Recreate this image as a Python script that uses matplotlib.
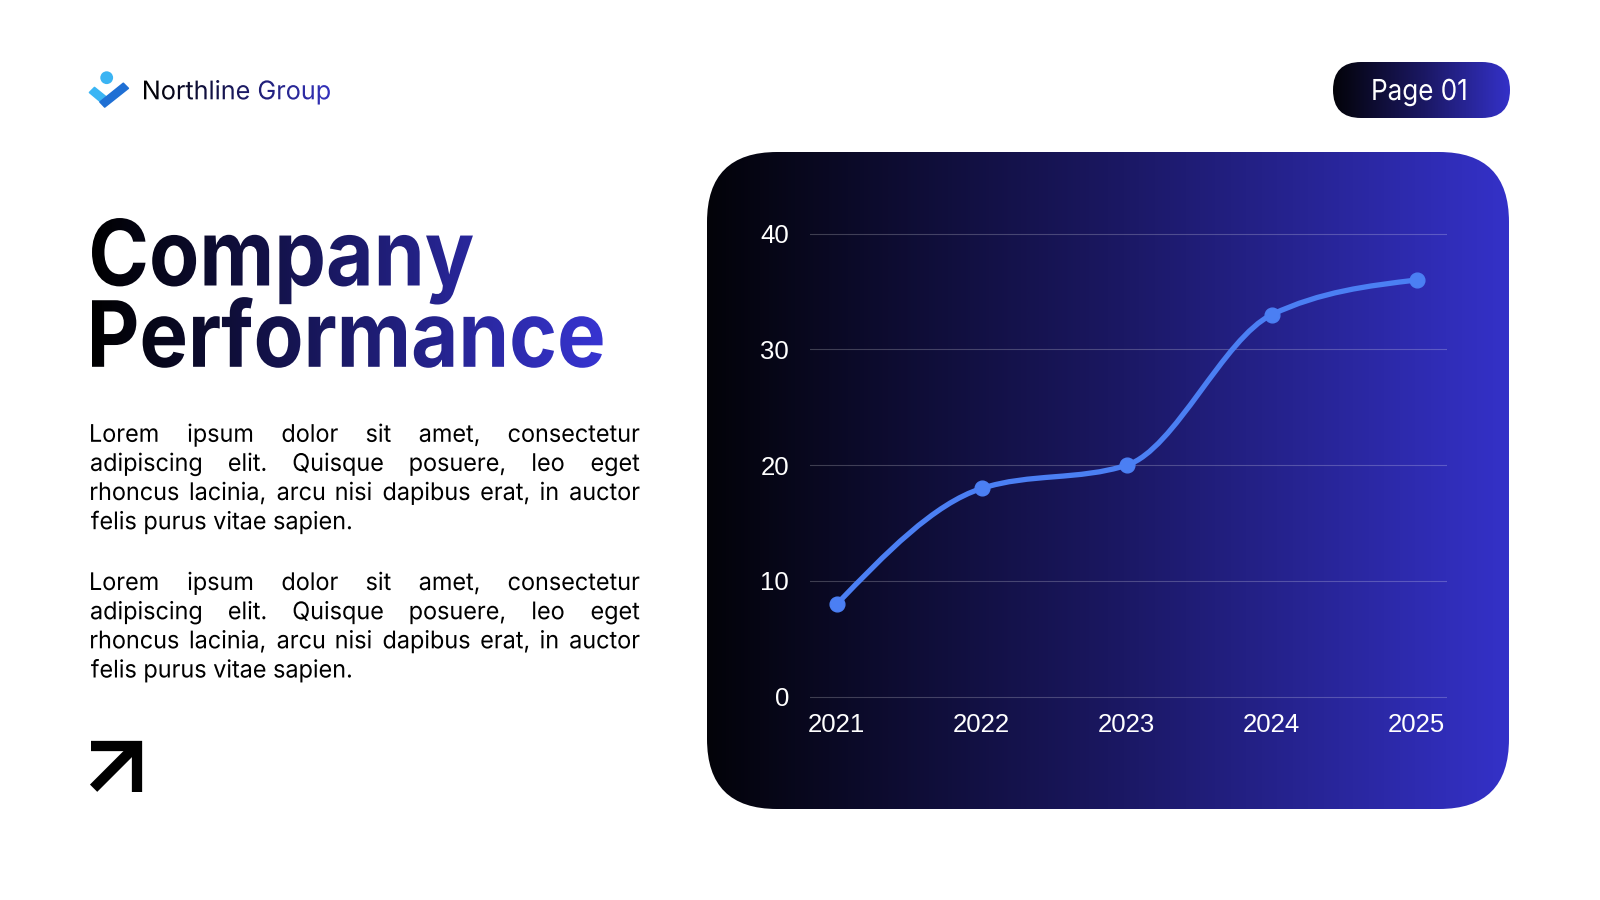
import numpy as np
import matplotlib
matplotlib.use("Agg")
import matplotlib.pyplot as plt
from matplotlib.patches import FancyBboxPatch, PathPatch, Polygon, Circle
from matplotlib.path import Path
from matplotlib.transforms import Affine2D, TransformedPath
from matplotlib.colors import LinearSegmentedColormap
from matplotlib.font_manager import FontProperties, findfont, get_font
from matplotlib.patheffects import AbstractPathEffect
from matplotlib.lines import Line2D
try:
    from matplotlib.ft2font import LoadFlags
    NOHINT = LoadFlags.NO_HINTING
except Exception:
    from matplotlib.ft2font import LOAD_NO_HINTING as NOHINT

# ---------------- data ----------------
years = ["2021", "2022", "2023", "2024", "2025"]
values = [8, 18, 20, 33, 36]
y_ticks = [0, 10, 20, 30, 40]

brand_name = "Northline Group"
page_label = "Page 01"
title_lines = ["Company", "Performance"]
paragraph_lines = [
    "Lorem ipsum dolor sit amet, consectetur",
    "adipiscing elit. Quisque posuere, leo eget",
    "rhoncus lacinia, arcu nisi dapibus erat, in auctor",
    "felis purus vitae sapien.",
]

plt.rcParams['font.family'] = ['Liberation Sans', 'DejaVu Sans']

W, H = 1600, 900
PX2PT = 0.72
fig = plt.figure(figsize=(16, 9), dpi=100)
fig.patch.set_facecolor('white')
bg = fig.add_axes([0, 0, 1, 1])
bg.set_xlim(0, W)
bg.set_ylim(H, 0)
bg.set_autoscale_on(False)
bg.axis('off')

panel_cmap = LinearSegmentedColormap.from_list('panel', ['#030309', '#1a1760', '#3431c8'])
title_cmap = LinearSegmentedColormap.from_list('title', ['#000000', '#3835d5'])
logo_cmap = LinearSegmentedColormap.from_list('logo', ['#000000', '#3533c0'])
ramp = np.linspace(0, 1, 512)[None, :]


class Squeeze(AbstractPathEffect):
    """Draw text as path, horizontally squeezed, optionally gradient-filled."""
    def __init__(self, sx=1.0, cmap=None, gx0=0.0, gx1=1.0):
        super().__init__()
        self.sx, self.cmap, self.gx0, self.gx1 = sx, cmap, gx0, gx1

    def draw_path(self, renderer, gc, tpath, affine, rgbFace=None):
        aff = Affine2D().scale(self.sx, 1.0) + affine
        if self.cmap is None:
            renderer.draw_path(gc, tpath, aff, rgbFace)
            return
        ext = aff.transform_path(tpath).get_extents()
        x0 = int(np.floor(ext.x0)) - 1
        y0 = int(np.floor(ext.y0)) - 1
        w = int(np.ceil(ext.x1)) + 1 - x0
        h = int(np.ceil(ext.y1)) + 1 - y0
        xs = np.arange(x0, x0 + w) + 0.5
        frac = np.clip((xs - self.gx0) / (self.gx1 - self.gx0), 0, 1)
        row = (np.asarray(self.cmap(frac)) * 255).astype(np.uint8)
        img = np.ascontiguousarray(np.repeat(row[None, :, :], h, axis=0))
        gc2 = renderer.new_gc()
        gc2.copy_properties(gc)
        gc2.set_clip_path(TransformedPath(tpath, aff))
        renderer.draw_image(gc2, x0, y0, img)
        gc2.restore()


def ink(s, prop, em):
    font = get_font(findfont(prop))
    font.set_size(em, 72)
    font.set_text(s, 0.0, flags=NOHINT)
    w, _ = font.get_width_height()
    g = font.load_char(ord(s[0]), flags=NOHINT)
    return w / 64.0, g.horiBearingX / 64.0


def put(x_ink, baseline, s, fam, weight, em, target_w=None, sx=None,
        color='black', cmap=None, gx=(0, 1), zorder=5):
    prop = FontProperties(family=fam, weight=weight, size=em * PX2PT)
    w, lsb = ink(s, prop, em)
    if sx is None:
        sx = target_w / w if target_w else 1.0
    t = bg.text(x_ink - lsb * sx, baseline, s, fontproperties=prop, color=color,
                ha='left', va='baseline', zorder=zorder)
    t.set_path_effects([Squeeze(sx, cmap, gx[0], gx[1])])
    return w * sx


# ---------------- logo ----------------
bg.add_patch(Polygon([(89.5, 92.5), (94.5, 87.5), (110, 100), (105, 105.5)],
                     closed=True, fc='#3ab5f4', ec='#3ab5f4', lw=1.2, joinstyle='round', zorder=3))
bg.add_patch(Polygon([(100, 102), (123.3, 83.3), (128.3, 88.3), (104.7, 107)],
                     closed=True, fc='#1f6fd4', ec='#1f6fd4', lw=1.2, joinstyle='round', zorder=4))
bg.add_patch(Circle((106.7, 77.7), 6.4, fc='#3bb4f3', ec='none', zorder=4))
put(144, 99.3, brand_name, 'Inter', 'normal', 25.7, target_w=333.3 - 144,
    cmap=logo_cmap, gx=(144, 333.3))

# ---------------- page pill ----------------
pill = FancyBboxPatch((1333, 62), 177, 56, boxstyle='round,pad=0,rounding_size=28',
                      transform=bg.transData, fc='none', ec='none')
im = bg.imshow(ramp, cmap=panel_cmap, extent=(1333, 1510, 118, 62), aspect='auto',
               interpolation='bilinear', zorder=2)
im.set_clip_path(pill)
put(1373.3, 100, page_label, 'Inter', 'normal', 28.9, target_w=1470 - 1373.3,
    color='white', zorder=6)

# ---------------- title ----------------
title_base = [285.5, 366.8]
title_right = [478, 611]
for line, yb, xr in zip(title_lines, title_base, title_right):
    put(92, yb, line, 'Inter', 'bold', 91.5, target_w=xr - 92,
        cmap=title_cmap, gx=(92, 611))

# ---------------- body text ----------------
body_prop = FontProperties(family='Inter', weight='normal', size=24.3 * PX2PT)
body_em = 24.3
x_left, x_right = 91, 641
last_w, _ = ink(paragraph_lines[-1], body_prop, body_em)
body_sx = (353 - x_left) / last_w


def paragraph(baselines):
    for i, (line, yb) in enumerate(zip(paragraph_lines, baselines)):
        if i == len(paragraph_lines) - 1:
            put(x_left, yb, line, 'Inter', 'normal', body_em, sx=body_sx, color='black')
            continue
        words = line.split(' ')
        widths = [ink(wd, body_prop, body_em)[0] * body_sx for wd in words]
        gap = (x_right - x_left - sum(widths)) / (len(words) - 1)
        x = x_left
        for wd, ww in zip(words, widths):
            put(x, yb, wd, 'Inter', 'normal', body_em, sx=body_sx, color='black')
            x += ww + gap


paragraph([441.8, 470.9, 500.0, 529.2])
paragraph([590.0, 619.2, 648.3, 677.5])

# ---------------- arrow ----------------
bg.add_line(Line2D([90.5, 136.5, 136.5], [745.9, 745.9, 791.7], color='black', lw=7.4,
                   solid_joinstyle='miter', solid_capstyle='butt', zorder=5))
bg.add_line(Line2D([93.6, 134.0], [788.2, 747.8], color='black', lw=7.4,
                   solid_capstyle='butt', zorder=5))

# ---------------- chart panel ----------------
panel = FancyBboxPatch((707, 152), 802, 657, boxstyle='round,pad=0,rounding_size=70',
                       transform=bg.transData, fc='none', ec='none')
im2 = bg.imshow(ramp, cmap=panel_cmap, extent=(707, 1509, 809, 152), aspect='auto',
                interpolation='bilinear', zorder=1)
im2.set_clip_path(panel)

ax = fig.add_axes([810 / W, 1 - 702.5 / H, 637 / W, (702.5 - 227.9) / H])
ax.set_facecolor('none')
xpos = np.arange(len(years))
ax.set_xlim(-0.185, 4.209)
ax.set_ylim(-0.5, 40.5)
ax.set_yticks(y_ticks)
ax.set_xticks(xpos)
ax.set_xticklabels(years)
ax.grid(axis='y', color='white', alpha=0.22, lw=0.8)
ax.grid(axis='x', visible=False)
for s in ax.spines.values():
    s.set_visible(False)
ax.tick_params(length=0, colors='white', labelsize=18.5)
ax.tick_params(axis='y', pad=15)
ax.tick_params(axis='x', pad=7.3)

# smooth monotone curve through the data points (cubic Bezier segments)
yv = np.asarray(values, dtype=float)
xv = xpos.astype(float)
n = len(yv)
sec = np.diff(yv) / np.diff(xv)
m = np.zeros(n)
for i in range(1, n - 1):
    h0, h1 = xv[i] - xv[i - 1], xv[i + 1] - xv[i]
    s0, s1 = sec[i - 1], sec[i]
    p = (s0 * h1 + s1 * h0) / (h0 + h1)
    m[i] = (np.sign(s0) + np.sign(s1)) * min(abs(s0), abs(s1), 0.5 * abs(p))
m[0] = (3 * sec[0] - m[1]) / 2
m[-1] = (3 * sec[-1] - m[-2]) / 2
verts = [(xv[0], yv[0])]
codes = [Path.MOVETO]
for i in range(n - 1):
    h = xv[i + 1] - xv[i]
    verts += [(xv[i] + h / 3, yv[i] + m[i] * h / 3),
              (xv[i + 1] - h / 3, yv[i + 1] - m[i + 1] * h / 3),
              (xv[i + 1], yv[i + 1])]
    codes += [Path.CURVE4] * 3
line_color = '#4b7ff3'
ax.add_patch(PathPatch(Path(verts, codes), fill=False, ec=line_color, lw=3.8,
                       capstyle='round', joinstyle='round', clip_on=False, zorder=3))
ax.plot(xpos, values, 'o', ms=10.6, color=line_color, mec=line_color, clip_on=False, zorder=4)

fig.savefig('out.png', dpi=100, facecolor='white')
